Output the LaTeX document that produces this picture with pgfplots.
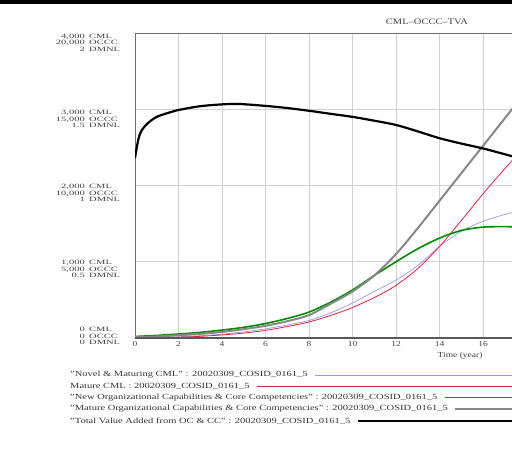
\documentclass[border=0pt]{standalone}
\usepackage{fontspec}
\setmainfont{Liberation Serif}
\usepackage{graphicx}
\usepackage{pgfplots}
\pgfplotsset{compat=1.18}
\definecolor{lav}{RGB}{160,150,225}
\definecolor{crim}{RGB}{232,30,60}
\definecolor{grn}{RGB}{0,140,0}
\definecolor{gry}{RGB}{135,135,135}
\definecolor{framec}{RGB}{110,110,110}
\newcommand\smallf{\fontsize{9.5}{9.5}\selectfont}
\newcommand\bigf{\fontsize{10.5}{10.5}\selectfont}
\newcommand\yl[4]{%
  \node[anchor=east, font=\bigf, yscale=0.62, align=right, inner sep=0pt, text=black!75] at (85,#1) {#2\\#3\\#4};
  \node[anchor=west, font=\bigf, yscale=0.62, align=left, inner sep=0pt, text=black!75] at (89,#1) {CML\\OCCC\\DMNL};}
\pgfplotstableread{
t v
0 1.18
0.15 1.30
0.3 1.36
0.6 1.41
1 1.45
1.5 1.475
2 1.495
3 1.52
4 1.532
4.6 1.535
5 1.533
6 1.522
7 1.508
8 1.49
9 1.47
10 1.45
11 1.425
12 1.397
13 1.355
14 1.31
15 1.275
16 1.243
17 1.205
18 1.165
19 1.12
20 1.08
}\tva
\pgfplotstableread{
t v
0 0.005
1 0.01
2 0.018
3 0.027
4 0.04
5 0.058
6 0.08
7 0.11
8 0.15
9 0.225
10 0.305
11 0.41
12 0.55
13 0.72
14 0.9
15 1.08
16 1.26
17 1.44
18 1.62
19 1.80
20 1.98
}\matorg
\pgfplotstableread{
t v
0 0.01
1 0.017
2 0.026
3 0.037
4 0.052
5 0.07
6 0.095
7 0.128
8 0.17
9 0.235
10 0.315
11 0.41
12 0.50
13 0.585
14 0.655
15 0.705
16 0.727
17 0.73
18 0.727
19 0.72
20 0.71
}\neworg
\pgfplotstableread{
t v
0 0.0
1 0.002
2 0.005
3 0.011
4 0.02
5 0.032
6 0.05
7 0.075
8 0.105
9 0.148
10 0.2
11 0.265
12 0.345
13 0.455
14 0.6
15 0.77
16 0.945
17 1.11
18 1.265
19 1.415
20 1.565
}\matcml
\pgfplotstableread{
t v
0 0.0
1 0.003
2 0.008
3 0.015
4 0.025
5 0.04
6 0.06
7 0.085
8 0.115
9 0.165
10 0.23
11 0.305
12 0.38
13 0.475
14 0.6
15 0.7
16 0.765
17 0.81
18 0.843
19 0.865
20 0.88
}\novcml
\begin{document}
\begin{tikzpicture}[x=1pt,y=1pt]
\useasboundingbox (0,0) rectangle (512,448);
\clip (0,0) rectangle (512,448);
\fill[black] (0,444) rectangle (512,448);
\begin{axis}[
  at={(135pt,110pt)}, anchor=south west,
  scale only axis, width=435pt, height=305pt,
  xmin=0, xmax=20, ymin=0, ymax=2,
  xtick={0,2,...,20}, ytick={0,0.5,...,2},
  xticklabels={0,2,4,6,8,10,12,14,16,{},{}},
  yticklabels={{},{},{},{},{}},
  grid=major,
  major grid style={draw=black!18, line width=0.7pt},
  axis line style={draw=framec, line width=0.8pt},
  tick style={draw=none},
  xticklabel style={font=\smallf, yscale=0.8, text=black!75, yshift=-1pt},
  clip=true,
]
\addplot[lav, line width=0.7pt, smooth] table {\novcml};
\addplot[crim, line width=0.8pt, smooth] table {\matcml};
\addplot[grn, line width=1.6pt, smooth] table {\neworg};
\addplot[gry, line width=2pt, smooth] table {\matorg};
\addplot[black, line width=2.2pt, smooth] table {\tva};
\draw[black!65, line width=1.8pt] (axis cs:0,0) -- (axis cs:20,0);
\end{axis}
\node[font=\bigf, yscale=0.8, text=black!75] at (427,426) {CML--OCCC--TVA};
\node[font=\smallf, yscale=0.8, text=black!75, anchor=east] at (486,92) {Time (year)};
\yl{405.3}{4,000}{20,000}{2}
\yl{329}{3,000}{15,000}{1.5}
\yl{255}{2,000}{10,000}{1}
\yl{179}{1,000}{5,000}{0.5}
\yl{112}{0}{0}{0}
\begin{scope}[every node/.style={anchor=west, font=\bigf, yscale=0.75, inner sep=0pt, text=black!80}]
\node (l1) at (70,73) {"Novel \& Maturing CML" : 20020309\_COSID\_0161\_5};
\node (l2) at (70,62) {Mature CML : 20020309\_COSID\_0161\_5};
\node (l3) at (70,50.5) {"New Organizational Capabilities \& Core Competencies" : 20020309\_COSID\_0161\_5};
\node (l4) at (70,39) {"Mature Organizational Capabilities \& Core Competencies" : 20020309\_COSID\_0161\_5};
\node (l5) at (70,27) {"Total Value Added from OC \& CC" : 20020309\_COSID\_0161\_5};
\end{scope}
\draw[lav, line width=1pt] ([xshift=7pt]l1.east) -- ++(300,0);
\draw[crim, line width=1pt] ([xshift=7pt]l2.east) -- ++(300,0);
\draw[grn, line width=1.6pt] ([xshift=7pt]l3.east) -- ++(300,0);
\draw[gry, line width=1.6pt] ([xshift=7pt]l4.east) -- ++(300,0);
\draw[black, line width=2.2pt] ([xshift=7pt]l5.east) -- ++(300,0);
\end{tikzpicture}
\end{document}
